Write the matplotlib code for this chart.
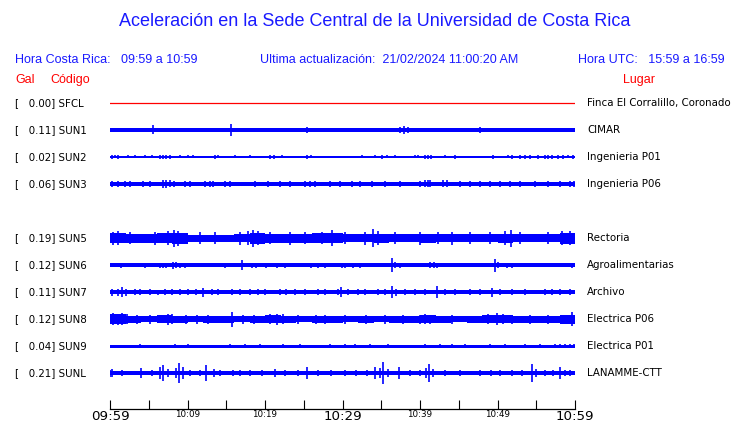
import matplotlib
matplotlib.use("Agg")
import matplotlib.pyplot as plt
import matplotlib.transforms as mtransforms

# station table
codes = ['SFCL', 'SUN1', 'SUN2', 'SUN3', 'SUN5', 'SUN6', 'SUN7', 'SUN8', 'SUN9', 'SUNL']
gal = [0.00, 0.11, 0.02, 0.06, 0.19, 0.12, 0.11, 0.12, 0.04, 0.21]
places = ['Finca El Corralillo, Coronado', 'CIMAR', 'Ingenieria P01', 'Ingenieria P06',
          'Rectoria', 'Agroalimentarias', 'Archivo', 'Electrica P06', 'Electrica P01',
          'LANAMME-CTT']

# time axis (minutes after 09:59)
tick_min = [0, 10, 20, 30, 40, 50, 60]
tick_lbl = ['09:59', '10:09', '10:19', '10:29', '10:39', '10:49', '10:59']
big_lbl = ['09:59', '10:29', '10:59']

# background band half-width of each trace (px)
base = {'SFCL': 0, 'SUN1': 1.7, 'SUN2': 0.6, 'SUN3': 1.8, 'SUN6': 1.6,
        'SUN7': 1.8, 'SUN9': 1.5, 'SUNL': 2.0}

# 2-minute envelopes for the noisier traces
env = {
    'SUN5': [5, 4.5, 4.5, 5, 5.5, 3.5, 3.5, 3.5, 4, 5.5, 4.5, 4.5, 4.5, 5, 5,
             4, 4, 4.5, 4, 4, 4.5, 4, 4, 4, 4, 4.5, 4, 4, 4, 5.5],
    'SUN8': [5, 3.5, 3, 4, 3.5, 3, 3.5, 3.5, 3, 3.5, 4, 3.5, 3, 3.5, 3.5,
             3, 3.5, 3, 3.5, 3.5, 4, 3.5, 3, 3.5, 4, 4, 3.5, 3.5, 3.5, 4.5],
}

# spikes: (minute, half-amplitude px)
spikes = {
    'SFCL': [],
    'SUN1': [(0.3, 2), (1.0, 2), (5.5, 4.5), (10.2, 2), (11.0, 2), (15.6, 6), (19.6, 2),
             (20.9, 2), (25.4, 3), (32.3, 2), (35.1, 2), (37.4, 3), (37.9, 4), (38.5, 3),
             (47.7, 3), (48.5, 2), (59.7, 2)],
    'SUN2': [(0.3, 2), (0.6, 1.5), (1.0, 2), (2.3, 1.5), (3.2, 1.5), (4.5, 1.5), (5.4, 1.5),
             (6.5, 2), (6.8, 2), (7.2, 2), (7.7, 2), (9.0, 1.5), (10.1, 1.5), (10.7, 1.5),
             (13.5, 2), (13.9, 1.5), (16.1, 1.5), (18.1, 1.5), (20.6, 2), (21.2, 2),
             (22.2, 1.5), (25.4, 2), (25.9, 1.5), (32.5, 1.5), (34.2, 1.5), (35.1, 2),
             (35.7, 1.5), (36.8, 1.5), (39.4, 1.5), (39.7, 1.5), (40.6, 2), (41.0, 2),
             (41.4, 2), (43.2, 1.5), (44.5, 2), (49.4, 2), (51.4, 1.5), (51.9, 2), (52.9, 2),
             (53.5, 2), (54.2, 2), (55.2, 2), (56.1, 2), (56.5, 2), (57.0, 2), (57.8, 2),
             (58.5, 2), (59.1, 1.5), (59.7, 2)],
    'SUN3': [(0.3, 3), (1.0, 3), (1.9, 3), (2.6, 3), (4.3, 3), (5.2, 3), (6.8, 3.8),
             (7.2, 3.8), (7.7, 3.5), (8.3, 3), (9.7, 3), (10.3, 3), (12.3, 3), (12.9, 3),
             (13.3, 3), (14.8, 3), (15.5, 3), (18.7, 3), (20.4, 3), (21.9, 3), (23.2, 3),
             (25.2, 3), (25.8, 3), (26.5, 3), (28.4, 3), (29.7, 3), (31.2, 3), (32.3, 3),
             (33.8, 3), (35.5, 3), (37.4, 3), (40.0, 3), (40.6, 3.5), (41.0, 3.5), (41.3, 3.5),
             (43.0, 3.5), (43.5, 3.5), (45.2, 3), (46.5, 3), (47.7, 3), (49.0, 3), (50.3, 3),
             (51.6, 3), (52.9, 3), (54.8, 3), (56.5, 3), (58.1, 3), (59.4, 3), (59.9, 3)],
    'SUN5': [(0.4, 6.5), (1.0, 7), (2.6, 6), (5.8, 6.5), (7.5, 7), (8.3, 8.5), (8.8, 7.5),
             (11.6, 6), (13.5, 6), (16.8, 6.5), (17.8, 7), (18.5, 8.5), (19.1, 7), (20.6, 6),
             (23.2, 6.5), (25.2, 6), (27.4, 6), (28.6, 8), (30.3, 6), (32.9, 6.5), (33.9, 9),
             (34.6, 7), (36.8, 6), (40.0, 6.5), (42.3, 6), (44.1, 6.5), (46.5, 6), (49.0, 6),
             (51.0, 7), (51.7, 8.5), (52.9, 6), (56.5, 6), (58.3, 7), (59.4, 7)],
    'SUN6': [(1.4, 2.5), (3.2, 2), (4.5, 2.5), (6.5, 2.5), (6.8, 2.5), (7.2, 2.5), (8.1, 3.5),
             (8.5, 3), (9.0, 2.5), (9.7, 2.5), (10.3, 2), (12.9, 2), (13.5, 2), (14.8, 2.5),
             (17.0, 5), (18.3, 2.5), (18.8, 2.5), (20.1, 2.5), (21.5, 2.5), (22.6, 2.5),
             (24.5, 2), (25.9, 2.5), (26.8, 2.5), (27.7, 2.5), (28.8, 2), (29.9, 2.5),
             (30.3, 2.5), (31.4, 2.5), (32.3, 2.5), (36.4, 7), (36.8, 3), (37.4, 2.5),
             (41.3, 3), (41.8, 3), (42.2, 2.5), (44.1, 2), (45.9, 2), (47.7, 2), (49.7, 6.5),
             (50.1, 3), (51.2, 2.5), (51.9, 2.5), (57.4, 2), (58.1, 2), (59.6, 2.5)],
    'SUN7': [(0.3, 3.5), (1.0, 3.5), (1.5, 5), (2.1, 3.5), (3.2, 3), (3.9, 3), (5.2, 3),
             (6.2, 2.5), (7.1, 3), (8.0, 3), (9.0, 3), (10.1, 3), (11.1, 3), (12.0, 4.5),
             (13.2, 3), (13.9, 3), (15.7, 3), (16.8, 3), (18.1, 3), (19.1, 3), (20.0, 3),
             (21.9, 3), (22.7, 3), (23.9, 3), (25.2, 3), (26.8, 3), (27.7, 3), (29.4, 3),
             (29.8, 5), (30.7, 3), (32.0, 3), (32.9, 3), (34.6, 3), (35.5, 3), (36.4, 6),
             (36.9, 3.5), (38.1, 3), (39.4, 3), (40.6, 3), (42.2, 6), (43.2, 3), (44.5, 3),
             (46.5, 3), (47.7, 3), (49.3, 4.5), (50.3, 3), (51.9, 3), (53.5, 3), (56.1, 3),
             (57.0, 3), (58.1, 3), (59.4, 3)],
    'SUN8': [(0.4, 6), (1.0, 5.5), (1.5, 6), (2.2, 5), (3.5, 4.5), (5.2, 4.5), (7.5, 5.5),
             (8.0, 5), (9.8, 4.5), (11.2, 4.5), (12.6, 4.5), (15.7, 7.5), (17.2, 4.5),
             (18.6, 4.5), (20.6, 5), (21.5, 5.5), (22.3, 5), (24.3, 4.5), (26.6, 4.5),
             (27.7, 4.5), (30.3, 4.5), (33.0, 4.5), (35.5, 4.5), (37.8, 4.5), (40.0, 4.5),
             (40.6, 5), (41.3, 4.5), (44.1, 4.5), (48.8, 5), (49.9, 6), (50.7, 5), (51.9, 4.5),
             (54.2, 4.5), (56.5, 4.5), (58.7, 4.5), (59.6, 7)],
    'SUN9': [(3.9, 2.2), (8.4, 2.2), (10.1, 2.2), (15.5, 2.2), (17.4, 2.2), (19.4, 2.2),
             (22.3, 2.2), (24.5, 2.2), (28.4, 2.2), (30.3, 2.2), (31.6, 2.2), (33.5, 2.2),
             (35.9, 2.2), (40.6, 2.2), (42.6, 2.2), (44.1, 2.2), (45.8, 2.2), (49.0, 2.2),
             (51.0, 2.2), (53.5, 2.2), (55.5, 2.2), (57.4, 2.2), (58.1, 2.2), (58.7, 2.2),
             (59.4, 2.2), (59.9, 2.2)],
    'SUNL': [(0.0, 3.5), (0.3, 4), (1.5, 3), (4.0, 5), (5.4, 3), (6.5, 6), (6.8, 8), (7.5, 4),
             (8.5, 5), (8.9, 10), (9.4, 6), (10.3, 3), (11.6, 3), (12.4, 8), (13.4, 4),
             (14.2, 3), (15.9, 3), (16.8, 3), (18.1, 3), (19.6, 3), (21.3, 4), (22.6, 3),
             (24.3, 3), (25.4, 6), (26.8, 3), (28.5, 3), (30.3, 3), (31.7, 3), (33.2, 3),
             (34.2, 6), (34.8, 5), (35.2, 11), (35.9, 4), (37.3, 6), (38.7, 3), (40.0, 3),
             (40.8, 5), (41.2, 9), (41.7, 4), (43.2, 3), (45.2, 3), (47.7, 3), (49.2, 3),
             (50.3, 3), (51.9, 3), (53.2, 3), (54.5, 9), (55.0, 4), (56.1, 3), (57.2, 3),
             (58.1, 6), (58.7, 3), (59.4, 3)],
}

W, H = 740, 423
BLUE = '#0000ff'
HDR_BLUE = '#1a1aff'
RED = '#ff0000'
HDR_FONT = 'Liberation Sans'


def fx(x):
    return x / W


def fy(y):
    return 1 - y / H


fig = plt.figure(figsize=(W / 100, H / 100), dpi=100)
fig.patch.set_facecolor('white')

# trace area: y in pixel rows, inverted
ax = fig.add_axes([fx(110), fy(409), fx(575) - fx(110), fy(90) - fy(409)])
ax.set_xlim(0, 60)
ax.set_ylim(409, 90)
for s in ['top', 'left', 'right']:
    ax.spines[s].set_visible(False)
ax.spines['bottom'].set_linewidth(0.9)
ax.set_yticks([])

ax.set_xticks(tick_min, tick_lbl)
ax.set_xticks(list(range(5, 60, 10)), minor=True)
ax.tick_params(axis='x', which='both', direction='in', length=6.8, width=0.8,
               pad=0.8, colors='black')
for lab in ax.get_xticklabels():
    lab.set_family('DejaVu Sans')
    lab.set_fontsize(9.6 if lab.get_text() in big_lbl else 6.3)

row_tr = mtransforms.blended_transform_factory(fig.transFigure, ax.transData)

slot = 0
for i, code in enumerate(codes):
    if code == 'SUN5':
        slot += 1  # empty row (no SUN4)
    yc = 103 + 27 * slot
    if code == 'SFCL':
        ax.axhline(yc, color=RED, lw=0.9)
    elif code in env:
        e = env[code] + [env[code][-1]]
        t = list(range(0, 61, 2))
        ax.fill_between(t, [yc - v for v in e], [yc + v for v in e],
                        step='post', color=BLUE, lw=0)
    else:
        b = base[code]
        ax.fill_between([0, 60], [yc - b] * 2, [yc + b] * 2, color=BLUE, lw=0)
    sp = spikes[code]
    if sp:
        ts = [p[0] for p in sp]
        amp = [p[1] for p in sp]
        ax.vlines(ts, [yc - a for a in amp], [yc + a for a in amp], color=BLUE, lw=1.2)

    ax.text(fx(15), yc, f'[   {gal[i]:.2f}] {code}', transform=row_tr,
            ha='left', va='center', fontsize=7.4, family='DejaVu Sans', color='black')
    ax.text(fx(587), yc, places[i], transform=row_tr,
            ha='left', va='center', fontsize=7.4, family='DejaVu Sans', color='black')
    slot += 1

# header
fig.text(fx(375), fy(22), 'Aceleración en la Sede Central de la Universidad de Costa Rica',
         ha='center', va='center', fontsize=13, color=HDR_BLUE, family=HDR_FONT)
fig.text(fx(15), fy(60), 'Hora Costa Rica:   09:59 a 10:59', ha='left', va='center',
         fontsize=9, color=HDR_BLUE, family=HDR_FONT)
fig.text(fx(260), fy(60), 'Ultima actualización:  21/02/2024 11:00:20 AM', ha='left',
         va='center', fontsize=9, color=HDR_BLUE, family=HDR_FONT)
fig.text(fx(725), fy(60), 'Hora UTC:   15:59 a 16:59', ha='right', va='center',
         fontsize=9, color=HDR_BLUE, family=HDR_FONT)
fig.text(fx(15), fy(80), 'Gal', ha='left', va='center', fontsize=9, color=RED, family=HDR_FONT)
fig.text(fx(50), fy(80), 'Código', ha='left', va='center', fontsize=9, color=RED,
         family=HDR_FONT)
fig.text(fx(655), fy(80), 'Lugar', ha='right', va='center', fontsize=9, color=RED,
         family=HDR_FONT)

fig.savefig('out.png', dpi=100)
